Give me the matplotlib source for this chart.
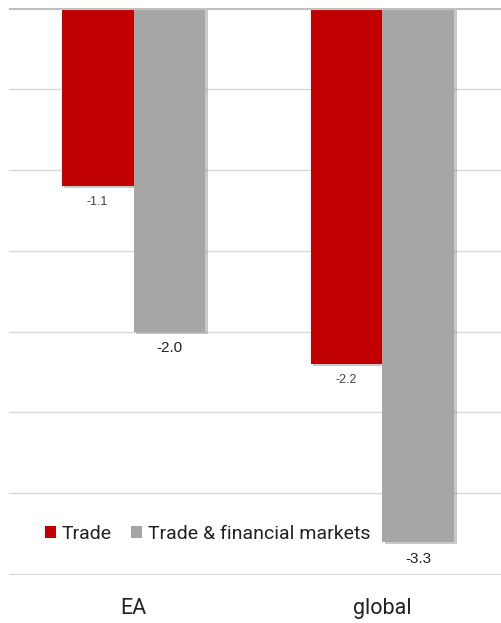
import matplotlib
matplotlib.use("Agg")
import matplotlib.pyplot as plt
import matplotlib.patheffects as pe
from matplotlib.patches import Patch
import numpy as np

# data
categories = ["EA", "global"]
trade = [-1.1, -2.2]
trade_fin = [-2.0, -3.3]
series_names = ["Trade", "Trade & financial markets"]

red = "#c00000"
grey = "#a6a6a6"

plt.rcParams['font.family'] = ['Liberation Sans', 'DejaVu Sans']

fig = plt.figure(figsize=(5.02, 6.23), dpi=100)
ax = fig.add_axes([0.018, 0.077, 0.982, 0.910])

x = np.array([0.5, 1.5])
w = 0.289
shadow = [pe.SimplePatchShadow(offset=(1.5, -1.5), shadow_rgbFace="#888888", alpha=0.45), pe.Normal()]

ax.bar(x - w / 2, trade, width=w, color=red, zorder=3, path_effects=shadow)
ax.bar(x + w / 2, trade_fin, width=w, color=grey, zorder=3, path_effects=shadow)

for xi, v in zip(x - w / 2, trade):
    ax.text(xi, v - 0.06, f"{v:.1f}", ha="center", va="top", fontsize=9, color="#404040")
for xi, v in zip(x + w / 2, trade_fin):
    ax.text(xi, v - 0.06, f"{v:.1f}", ha="center", va="top", fontsize=11, color="#222222")

ax.set_xlim(0, 1.98)
ax.set_ylim(-3.505, 0)
ax.set_yticks(np.arange(-3.5, 0.01, 0.5))
ax.yaxis.grid(True, color="#d9d9d9", linewidth=1, zorder=0)
ax.axhline(0, color="#c0c0c0", linewidth=3, zorder=4)
ax.tick_params(axis="y", left=False, labelleft=False)
ax.set_xticks(x)
ax.set_xticklabels(categories, fontsize=15.5, color="#222222", family=["Roboto", "DejaVu Sans"])
ax.tick_params(axis="x", bottom=False, pad=13)
for s in ax.spines.values():
    s.set_visible(False)

handles = [Patch(facecolor=red, label=series_names[0]), Patch(facecolor=grey, label=series_names[1])]
ax.legend(handles=handles, loc="center left", bbox_to_anchor=(0.073, 0.072), ncol=2, frameon=False,
          prop={"family": ["Roboto", "DejaVu Sans"], "size": 14},
          handlelength=0.55, handleheight=0.55, handletextpad=0.3,
          columnspacing=1.0, labelcolor="#222222", borderpad=0, borderaxespad=0)

plt.savefig("out.png", dpi=100)
plt.close()
